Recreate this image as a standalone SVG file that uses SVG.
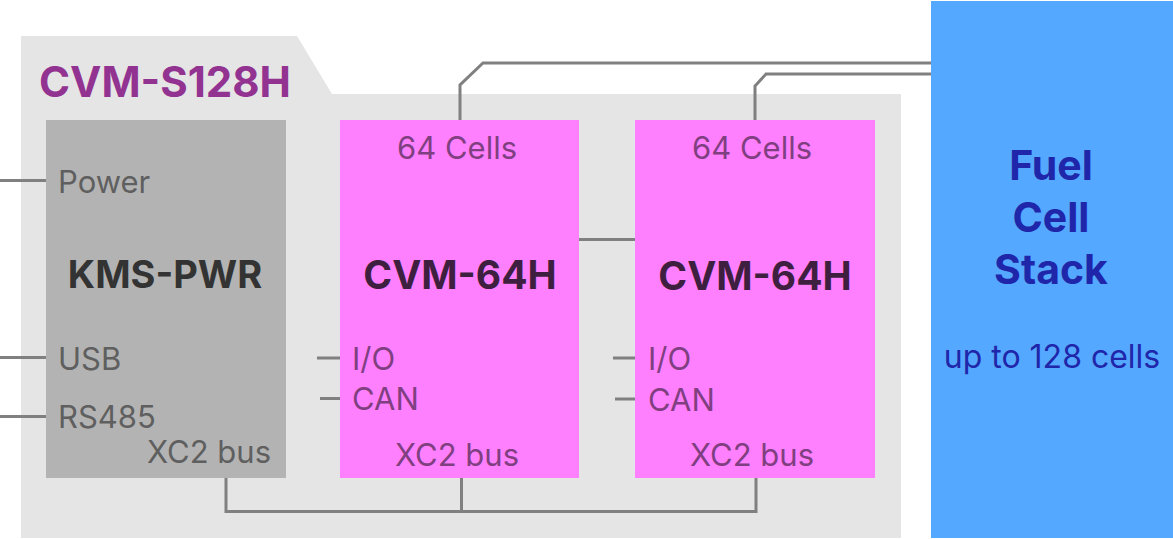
<svg xmlns="http://www.w3.org/2000/svg" width="1173" height="539" viewBox="0 0 1173 539">
<style>
.t{font-family:Inter,"Liberation Sans",sans-serif}
.reg{font-size:31px;font-weight:400}
.bold{font-weight:700}
.c{text-anchor:middle}
.gl{fill:#5f5f5f}
.pl{fill:#7f3f80}
.ln{fill:none;stroke:#808080;stroke-width:3}
</style>
<rect width="1173" height="539" fill="#ffffff"/>
<g id="container">
<path d="M21 36 H297 L332 94 H901 V538 H21 Z" fill="#e5e5e5"/>
<text class="t bold" x="39" y="97" font-size="42" fill="#933391">CVM-S128H</text>
</g>
<g id="connectors">
<path class="ln" d="M0 180.5 H46 M0 357.5 H46 M0 416.5 H46"/>
<path class="ln" d="M317 358 H340 M320 398.5 H340 M613 358 H635 M615 399 H635"/>
<path class="ln" d="M579 239.5 H635"/>
<path class="ln" d="M226 478 V511.5 H756 V478 M461.5 478 V511.5"/>
<path class="ln" d="M460 120 V85 L483 63 H931"/>
<path class="ln" d="M755 120 V86 L766 74 H931"/>
</g>
<g id="kms-pwr">
<rect x="46" y="120" width="240" height="358" fill="#b3b3b3"/>
<text class="t reg gl" x="58" y="193">Power</text>
<text class="t bold c" x="165" y="288" font-size="38" fill="#333333">KMS-PWR</text>
<text class="t reg gl" x="58" y="370">USB</text>
<text class="t reg gl" x="58" y="428">RS485</text>
<text class="t reg gl" x="147" y="463">XC2 bus</text>
</g>
<g id="cvm-64h-1">
<rect x="340" y="120" width="239" height="358" fill="#ff80ff"/>
<text class="t reg pl c" x="457" y="159">64 Cells</text>
<text class="t bold c" x="460" y="289" font-size="39" fill="#3f1f3f">CVM-64H</text>
<text class="t reg pl" x="352" y="370">I/O</text>
<text class="t reg pl" x="352" y="410">CAN</text>
<text class="t reg pl c" x="457" y="466">XC2 bus</text>
</g>
<g id="cvm-64h-2">
<rect x="635" y="120" width="240" height="358" fill="#ff80ff"/>
<text class="t reg pl c" x="752" y="159">64 Cells</text>
<text class="t bold c" x="755" y="290" font-size="39" fill="#3f1f3f">CVM-64H</text>
<text class="t reg pl" x="648" y="370">I/O</text>
<text class="t reg pl" x="648" y="411">CAN</text>
<text class="t reg pl c" x="752" y="466">XC2 bus</text>
</g>
<g id="fuel-cell-stack">
<rect x="931" y="1" width="242" height="537" fill="#55a8ff"/>
<text class="t bold c" x="1051" y="180" font-size="41" fill="#1f26aa">Fuel</text>
<text class="t bold c" x="1051" y="232" font-size="41" fill="#1f26aa">Cell</text>
<text class="t bold c" x="1051" y="284" font-size="41" fill="#1f26aa">Stack</text>
<text class="t c" x="1052" y="368" font-size="32" fill="#1f26aa">up to 128 cells</text>
</g>
</svg>
